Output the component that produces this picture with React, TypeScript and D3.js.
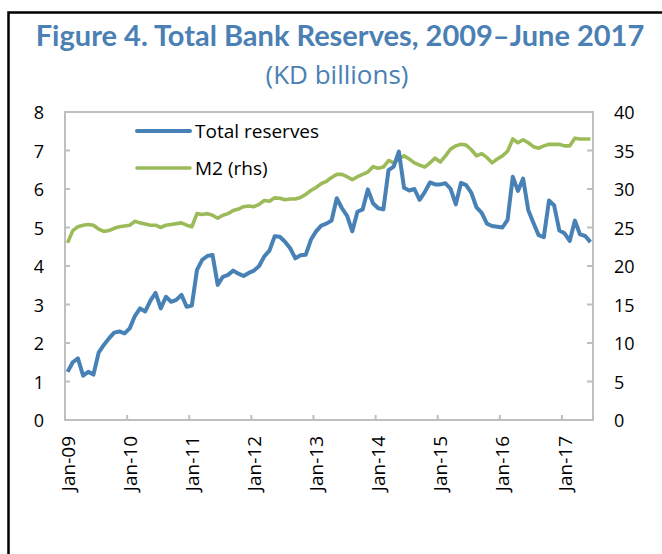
import React from "react";
import * as d3 from "d3";

const years = ["09", "10", "11", "12", "13", "14", "15", "16", "17"];
const xTickLabels = years.map((y) => `Jan-${y}`);
const leftTicks = [0, 1, 2, 3, 4, 5, 6, 7, 8];
const rightTicks = [0, 5, 10, 15, 20, 25, 30, 35, 40];

// Total reserves, KD billions, monthly Jan-2009 .. Jun-2017 (left axis)
const totalReserves = [
  1.25, 1.5, 1.6, 1.15, 1.25, 1.18, 1.75, 1.95, 2.12, 2.27, 2.3, 2.25,
  2.38, 2.7, 2.9, 2.82, 3.1, 3.3, 2.9, 3.2, 3.07, 3.12, 3.25, 2.94,
  2.97, 3.9, 4.16, 4.26, 4.29, 3.51, 3.72, 3.77, 3.88, 3.8, 3.74, 3.82,
  3.88, 4.0, 4.25, 4.4, 4.77, 4.76, 4.63, 4.46, 4.2, 4.28, 4.29, 4.68,
  4.9, 5.05, 5.1, 5.18, 5.76, 5.5, 5.3, 4.9, 5.41, 5.47, 5.99, 5.63,
  5.5, 5.47, 6.49, 6.58, 6.97, 6.03, 5.96, 6.0, 5.72, 5.92, 6.17, 6.12,
  6.12, 6.15, 6.0, 5.6, 6.16, 6.1, 5.9, 5.52, 5.38, 5.1, 5.04, 5.02,
  5.0, 5.2, 6.32, 5.95, 6.27, 5.45, 5.12, 4.8, 4.75, 5.7, 5.57, 4.92,
  4.85, 4.65, 5.18, 4.82, 4.78, 4.62,
];

// M2, KD billions (right axis)
const m2 = [
  23.0, 24.6, 25.1, 25.3, 25.4, 25.3, 24.8, 24.5, 24.6, 24.9, 25.1, 25.2,
  25.3, 25.8, 25.6, 25.45, 25.3, 25.3, 25.0, 25.3, 25.4, 25.5, 25.6, 25.3,
  25.1, 26.8, 26.7, 26.8, 26.6, 26.2, 26.6, 26.8, 27.2, 27.4, 27.7, 27.8,
  27.7, 28.0, 28.5, 28.4, 28.85, 28.8, 28.6, 28.7, 28.7, 28.9, 29.3, 29.8,
  30.2, 30.7, 31.0, 31.5, 31.9, 31.9, 31.6, 31.2, 31.6, 31.9, 32.2, 32.9,
  32.7, 32.85, 33.7, 33.4, 33.9, 34.3, 33.9, 33.4, 33.1, 32.85, 33.4, 34.0,
  33.5, 34.3, 35.2, 35.6, 35.8, 35.7, 35.1, 34.3, 34.6, 34.1, 33.4, 33.9,
  34.3, 34.9, 36.5, 36.0, 36.4, 36.0, 35.5, 35.3, 35.6, 35.8, 35.8, 35.8,
  35.6, 35.6, 36.6, 36.5, 36.5, 36.5,
];

const seriesNames = ["Total reserves", "M2 (rhs)"];

const W = 662;
const H = 554;
const L = 65;
const R = 593;
const T = 112;
const B = 420;

const BLUE = "#4781B5";
const GREEN = "#9BBB59";
const TITLE = "#4A80B3";
const GRAY = "#BFBFBF";
const FONT = "'Open Sans', sans-serif";
const TITLE_FONT = "Lato, 'Open Sans', sans-serif";

export default function App() {
  const n = totalReserves.length;
  const x = d3.scaleLinear().domain([0, n]).range([L, R]);
  const yL = d3.scaleLinear().domain([0, 8]).range([B, T]);
  const yR = d3.scaleLinear().domain([0, 40]).range([B, T]);

  const lineL = d3
    .line<number>()
    .x((_, i) => x(i + 0.5))
    .y((d) => yL(d));
  const lineR = d3
    .line<number>()
    .x((_, i) => x(i + 0.5))
    .y((d) => yR(d));

  const xTickIdx = xTickLabels.map((_, k) => k * 12);

  return (
    <svg
      width={W}
      height={H}
      style={{ position: "absolute", left: 0, top: 0, background: "#fff" }}
      fontFamily={FONT}
    >
      <rect x={0} y={0} width={W} height={H} fill="#fff" />
      <rect
        x={8.5}
        y={12.5}
        width={720}
        height={620}
        fill="none"
        stroke="#000"
        strokeWidth={2.5}
      />
      <text
        x={340}
        y={46}
        textAnchor="middle"
        fontSize={29}
        fontWeight={700}
        fill={TITLE}
        fontFamily={TITLE_FONT}
      >
        Figure 4. Total Bank Reserves, 2009–June 2017
      </text>
      <text x={337} y={84} textAnchor="middle" fontSize={26} fill={TITLE}>
        (KD billions)
      </text>

      {/* plot frame */}
      <rect
        x={L}
        y={T}
        width={R - L}
        height={B - T}
        fill="none"
        stroke={GRAY}
        strokeWidth={2}
      />

      {/* left ticks */}
      {leftTicks.map((t) => (
        <g key={"l" + t}>
          <line x1={L} x2={L + 5} y1={yL(t)} y2={yL(t)} stroke={GRAY} strokeWidth={2} />
          <text
            x={44}
            y={yL(t)}
            textAnchor="end"
            dominantBaseline="central"
            fontSize={18}
            fill="#000"
          >
            {t}
          </text>
        </g>
      ))}

      {/* right ticks */}
      {rightTicks.map((t) => (
        <g key={"r" + t}>
          <line x1={R - 6} x2={R} y1={yR(t)} y2={yR(t)} stroke={GRAY} strokeWidth={2} />
          <text
            x={614}
            y={yR(t)}
            textAnchor="start"
            dominantBaseline="central"
            fontSize={18}
            fill="#000"
          >
            {t}
          </text>
        </g>
      ))}

      {/* x ticks */}
      {xTickIdx.map((i, k) => (
        <g key={"x" + i}>
          <line x1={x(i)} x2={x(i)} y1={B} y2={B - 5} stroke={GRAY} strokeWidth={2} />
          <text
            transform={`translate(${x(i + 0.5)},${B + 16}) rotate(-90)`}
            textAnchor="end"
            dominantBaseline="central"
            fontSize={19}
            fill="#000"
          >
            {xTickLabels[k]}
          </text>
        </g>
      ))}

      {/* series */}
      <path d={lineR(m2) || ""} fill="none" stroke={GREEN} strokeWidth={3.6} strokeLinejoin="round" />
      <path
        d={lineL(totalReserves) || ""}
        fill="none"
        stroke={BLUE}
        strokeWidth={4}
        strokeLinejoin="round"
      />

      {/* legend */}
      <line x1={137} x2={190} y1={131} y2={131} stroke={BLUE} strokeWidth={4} strokeLinecap="round" />
      <text x={195} y={131} dominantBaseline="central" fontSize={19} fill="#000">
        {seriesNames[0]}
      </text>
      <line x1={137} x2={190} y1={168} y2={168} stroke={GREEN} strokeWidth={3.6} strokeLinecap="round" />
      <text x={195} y={168} dominantBaseline="central" fontSize={19} fill="#000">
        {seriesNames[1]}
      </text>
    </svg>
  );
}
